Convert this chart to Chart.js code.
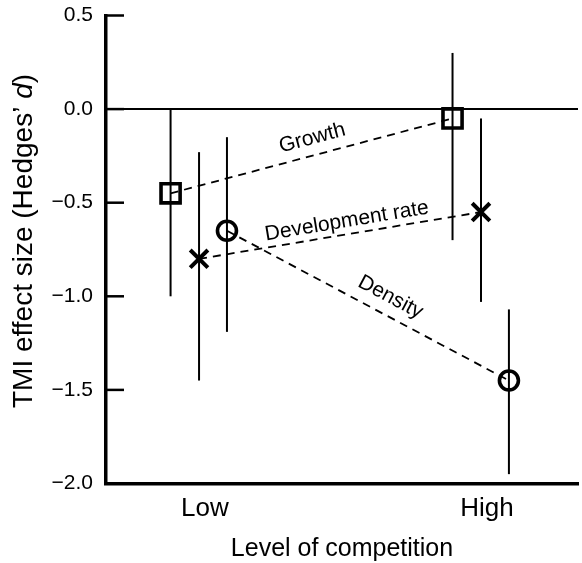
<!DOCTYPE html>
<html>
<head>
<meta charset="utf-8">
<title>TMI effect size by level of competition</title>
<script src="https://cdn.jsdelivr.net/npm/chart.js@4.4.1/dist/chart.umd.min.js"></script>
<style>
  html, body { margin: 0; padding: 0; background: #fff; }
  canvas { display: block; }
</style>
</head>
<body>
<canvas id="chart" width="582" height="563"></canvas>
<script>
// ---- data -------------------------------------------------------------
const categories = ['Low', 'High'];
const seriesNames = ['Growth', 'Development rate', 'Density'];

const growthMean = [-0.45, -0.05];
const growthLower = [-1.00, -0.70];
const growthUpper = [0.00, 0.30];

const devMean = [-0.80, -0.55];
const devLower = [-1.45, -1.03];
const devUpper = [-0.23, -0.05];

const densityMean = [-0.65, -1.45];
const densityLower = [-1.19, -1.95];
const densityUpper = [-0.15, -1.07];

const yTicks = [-2.0, -1.5, -1.0, -0.5, 0.0, 0.5];

// ---- styling ----------------------------------------------------------
const FONT = '"Liberation Sans", Arial, Helvetica, sans-serif';
Chart.defaults.font.family = FONT;
Chart.defaults.color = '#000';

// horizontal dodge of each series around its category, and marker look
const seriesStyle = [
  { dodge: -0.122, pointStyle: 'rect',     radius: 13.5, width: 3.6, labelT: 0.518, labelGap: 17 },
  { dodge: -0.021, pointStyle: 'crossRot', radius: 12.5, width: 4.0, labelT: 0.532, labelGap: 13 },
  { dodge:  0.078, pointStyle: 'circle',   radius: 9.5,  width: 3.6, labelT: 0.550, labelGap: 18 }
];

const means = [growthMean, devMean, densityMean];
const lowers = [growthLower, devLower, densityLower];
const uppers = [growthUpper, devUpper, densityUpper];

const datasets = seriesNames.map((name, k) => ({
  label: name,
  data: means[k].map((m, i) => ({ x: i + 1 + seriesStyle[k].dodge, y: m })),
  errLow: lowers[k],
  errHigh: uppers[k],
  borderColor: '#000',
  borderWidth: 1.8,
  borderDash: [8, 6],
  fill: false,
  tension: 0,
  clip: false,
  pointStyle: seriesStyle[k].pointStyle,
  pointRadius: seriesStyle[k].radius,
  pointBorderWidth: seriesStyle[k].width,
  pointBorderColor: '#000',
  pointBackgroundColor: 'rgba(0,0,0,0)'
}));

// vertical error bars, drawn under the markers
const errorBars = {
  id: 'errorBars',
  beforeDatasetsDraw(chart) {
    const { ctx, scales: { x, y } } = chart;
    ctx.save();
    ctx.strokeStyle = '#000';
    ctx.lineWidth = 2;
    chart.data.datasets.forEach(ds => {
      ds.data.forEach((p, i) => {
        const px = x.getPixelForValue(p.x);
        ctx.beginPath();
        ctx.moveTo(px, y.getPixelForValue(ds.errHigh[i]));
        ctx.lineTo(px, y.getPixelForValue(ds.errLow[i]));
        ctx.stroke();
      });
    });
    ctx.restore();
  }
};

// series names written along their dashed connectors
const lineLabels = {
  id: 'lineLabels',
  afterDatasetsDraw(chart) {
    const { ctx } = chart;
    ctx.save();
    ctx.fillStyle = '#000';
    ctx.font = '21px ' + FONT;
    ctx.textAlign = 'center';
    ctx.textBaseline = 'middle';
    chart.data.datasets.forEach((ds, k) => {
      const pts = chart.getDatasetMeta(k).data;
      const a = pts[0], b = pts[1];
      const dx = b.x - a.x, dy = b.y - a.y, len = Math.hypot(dx, dy);
      const st = seriesStyle[k];
      const px = a.x + dx * st.labelT + (dy / len) * st.labelGap;
      const py = a.y + dy * st.labelT + (-dx / len) * st.labelGap;
      ctx.save();
      ctx.translate(px, py);
      ctx.rotate(Math.atan2(dy, dx));
      ctx.fillText(ds.label, 0, 0);
      ctx.restore();
    });
    ctx.restore();
  }
};

// inward tick marks on the y axis and the y axis title (italic d)
const axisExtras = {
  id: 'axisExtras',
  afterDraw(chart) {
    const { ctx, chartArea, scales: { y } } = chart;
    ctx.save();
    ctx.strokeStyle = '#000';
    ctx.lineWidth = 2.5;
    y.ticks.forEach(t => {
      const py = y.getPixelForValue(t.value);
      ctx.beginPath();
      ctx.moveTo(chartArea.left, py);
      ctx.lineTo(chartArea.left + 18, py);
      ctx.stroke();
    });

    const parts = [
      ['TMI effect size (Hedges\u2019 ', 'normal'],
      ['d', 'italic'],
      [')', 'normal']
    ];
    const size = 28;
    let total = 0;
    parts.forEach(p => { ctx.font = p[1] + ' ' + size + 'px ' + FONT; total += ctx.measureText(p[0]).width; });
    ctx.translate(24, 241);
    ctx.rotate(-Math.PI / 2);
    ctx.fillStyle = '#000';
    ctx.textAlign = 'left';
    ctx.textBaseline = 'middle';
    let cx = -total / 2;
    parts.forEach(p => {
      ctx.font = p[1] + ' ' + size + 'px ' + FONT;
      ctx.fillText(p[0], cx, 0);
      cx += ctx.measureText(p[0]).width;
    });
    ctx.restore();
  }
};

new Chart(document.getElementById('chart'), {
  type: 'line',
  data: { datasets },
  plugins: [errorBars, lineLabels, axisExtras],
  options: {
    responsive: false,
    animation: false,
    events: [],
    layout: { autoPadding: false, padding: { top: 15.5, right: 4, bottom: 0, left: 0 } },
    plugins: { legend: { display: false }, tooltip: { enabled: false } },
    scales: {
      x: {
        type: 'linear',
        min: 0.649,
        max: 2.323,
        afterBuildTicks: s => { s.ticks = categories.map((c, i) => ({ value: i + 1 })); },
        afterFit: s => { s.height = 79.5; s.paddingLeft = 0; s.paddingRight = 0; },
        grid: { display: false, drawTicks: false },
        border: { display: true, color: '#000', width: 3.5 },
        ticks: {
          padding: 10,
          autoSkip: false,
          maxRotation: 0,
          font: { size: 26 },
          color: '#000',
          callback: v => categories[Math.round(v) - 1]
        },
        title: {
          display: true,
          text: 'Level of competition',
          color: '#000',
          font: { size: 25, lineHeight: 1 },
          padding: { top: 0, bottom: 1.5 }
        }
      },
      y: {
        min: -2,
        max: 0.5,
        afterBuildTicks: s => { s.ticks = yTicks.map(v => ({ value: v })); },
        afterFit: s => { s.width = 106; s.paddingTop = 0; s.paddingBottom = 0; },
        grid: {
          drawTicks: false,
          lineWidth: 2,
          color: c => (c.tick && c.tick.value === 0 ? '#000' : 'rgba(0,0,0,0)')
        },
        border: { display: true, color: '#000', width: 3.5 },
        ticks: {
          padding: 13,
          font: { size: 21 },
          color: '#000',
          callback: v => v.toFixed(1).replace('-', '\u2212')
        }
      }
    }
  }
});
</script>
</body>
</html>
